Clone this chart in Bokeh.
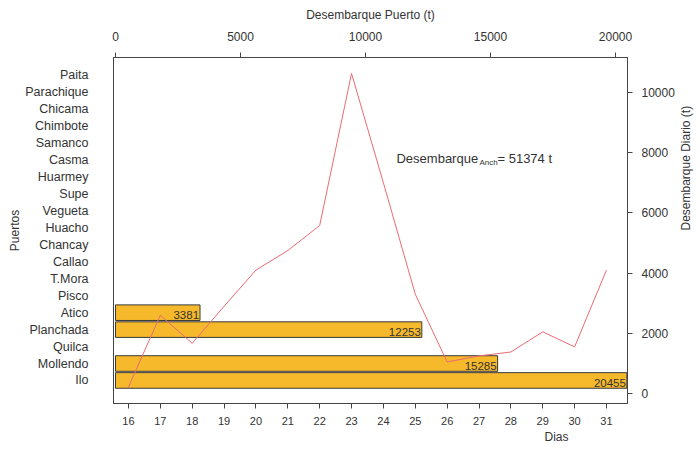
import math
from bokeh.plotting import figure
from bokeh.models import Range1d, LinearAxis, FixedTicker, Label, ColumnDataSource, Title
from bokeh.embed import file_html
from bokeh.resources import INLINE
from bokeh.core.properties import value

# ---- data ----
puertos = ["Paita", "Parachique", "Chicama", "Chimbote", "Samanco", "Casma",
           "Huarmey", "Supe", "Vegueta", "Huacho", "Chancay", "Callao",
           "T.Mora", "Pisco", "Atico", "Planchada", "Quilca", "Mollendo", "Ilo"]
desembarque_puerto = [0, 0, 0, 0, 0, 0, 0, 0, 0, 0, 0, 0, 0, 0,
                      3381, 12253, 0, 15285, 20455]
dias = [16, 17, 18, 19, 20, 21, 22, 23, 24, 25, 26, 27, 28, 29, 30, 31]
desembarque_diario = [220, 2600, 1670, 2900, 4100, 4750, 5580, 10630,
                      7000, 3300, 1050, 1250, 1380, 2050, 1550, 4100]
puerto_ticks = [0, 5000, 10000, 15000, 20000]
diario_ticks = [0, 2000, 4000, 6000, 8000, 10000]
total_anch = sum(desembarque_puerto)

FONT = "Liberation Sans"
TXT = "#333333"
AX = "#444444"

n = len(puertos)
idx = [n - i for i in range(n)]  # Paita top (19) ... Ilo bottom (1)

bars = ColumnDataSource(dict(
    y=[idx[i] for i in range(n) if desembarque_puerto[i] > 0],
    right=[desembarque_puerto[i] for i in range(n) if desembarque_puerto[i] > 0],
    ly=[idx[i] - 0.15 for i in range(n) if desembarque_puerto[i] > 0],
    txt=[str(desembarque_puerto[i]) for i in range(n) if desembarque_puerto[i] > 0],
))

p = figure(frame_width=514, frame_height=346, output_backend="svg",
           toolbar_location=None,
           x_range=Range1d(15.53, 31.66), y_range=Range1d(-0.36, 20.06),
           min_border_left=113, min_border_right=50, min_border_top=57,
           min_border_bottom=30, x_axis_location=None, y_axis_location=None)
p.extra_x_ranges = {"puerto": Range1d(-80, 20480)}
p.extra_y_ranges = {"diario": Range1d(-330, 11160)}
p.grid.visible = False
p.outline_line_color = AX
p.outline_line_width = 1
p.background_fill_color = "white"
p.border_fill_color = "white"

p.hbar(y="y", left=0, right="right", height=0.92, source=bars,
       x_range_name="puerto", fill_color="#F6B92B", line_color="#3a3a3a",
       line_width=1)
p.line(dias, desembarque_diario, y_range_name="diario", line_color="#EC6A74",
       line_width=1)
p.text(x="right", y="ly", text="txt", source=bars, x_range_name="puerto",
       text_align="right", text_baseline="middle", text_font_size="11.5px",
       text_font=value(FONT), text_color=TXT, x_offset=-1)


def style(ax, size="12px"):
    ax.major_label_text_font = FONT
    ax.major_label_text_font_size = size
    ax.major_label_text_color = TXT
    ax.axis_label_text_font = FONT
    ax.axis_label_text_font_size = "12px"
    ax.axis_label_text_font_style = "normal"
    ax.axis_label_text_color = TXT
    ax.axis_line_color = AX
    ax.major_tick_line_color = AX
    ax.minor_tick_line_color = None
    ax.major_tick_in = 0
    ax.major_tick_out = 5


bottom = LinearAxis(ticker=FixedTicker(ticks=dias))
style(bottom, "11px")
bottom.major_label_standoff = 8
p.add_layout(bottom, "below")

p.add_layout(Title(text="Dias", align="left", offset=431, standoff=0,
                   text_font=FONT, text_font_size="12px",
                   text_font_style="normal", text_color=TXT), "below")

left = LinearAxis(ticker=FixedTicker(ticks=idx), axis_label="Puertos",
                  major_label_overrides={idx[i]: puertos[i] for i in range(n)})
style(left, "12.5px")
left.axis_line_color = None
left.major_tick_line_color = None
left.major_label_standoff = 20
left.axis_label_standoff = 0
p.add_layout(left, "left")

top = LinearAxis(x_range_name="puerto", ticker=FixedTicker(ticks=puerto_ticks),
                 axis_label="Desembarque Puerto (t)")
style(top)
top.major_label_standoff = 12
top.axis_label_standoff = 7
p.add_layout(top, "above")

right = LinearAxis(y_range_name="diario", ticker=FixedTicker(ticks=diario_ticks),
                   axis_label="Desembarque Diario (t)")
style(right, "12px")
right.major_label_standoff = 9
right.axis_label_standoff = 8
right.axis_label_orientation = math.pi / 2
p.add_layout(right, "right")

ax0, ay0 = 24.41, 7807
p.add_layout(Label(x=ax0, y=ay0, y_range_name="diario", text="Desembarque",
                   text_font=FONT, text_font_size="13px", text_color=TXT,
                   text_baseline="middle"))
p.add_layout(Label(x=ax0, y=ay0 - 140, y_range_name="diario", text="Anch",
                   x_offset=83, text_font=FONT, text_font_size="8px",
                   text_color=TXT, text_baseline="middle"))
p.add_layout(Label(x=ax0, y=ay0, y_range_name="diario",
                   text=f"= {total_anch} t", x_offset=101,
                   text_font=FONT, text_font_size="13px", text_color=TXT,
                   text_baseline="middle"))

open("out.html", "w").write(file_html(p, INLINE))
